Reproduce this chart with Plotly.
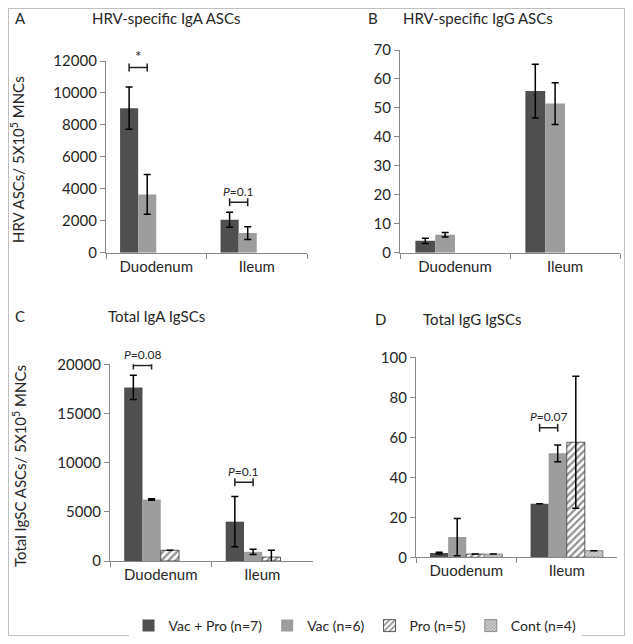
import plotly.graph_objects as go

# target picture size and page offset (browser body margin)
W, H = 633, 644
PAD = 8
FW, FH = W - 2 * PAD, H - 2 * PAD

categories = ["Duodenum", "Ileum"]
series_names = ["Vac + Pro (n=7)", "Vac (n=6)", "Pro (n=5)", "Cont (n=4)"]

# panel A - HRV-specific IgA ASCs
a_vacpro = [9050, 2060]
a_vacpro_err = [1330, 470]
a_vac = [3650, 1230]
a_vac_err = [1250, 400]

# panel B - HRV-specific IgG ASCs
b_vacpro = [4.1, 55.8]
b_vacpro_err = [0.9, 9.3]
b_vac = [6.2, 51.5]
b_vac_err = [0.8, 7.2]

# panel C - Total IgA IgSCs
c_vacpro = [17650, 4000]
c_vacpro_err = [1240, 2550]
c_vac = [6250, 930]
c_vac_err = [80, 260]
c_pro = [1090, 400]
c_pro_err = [0, 700]

# panel D - Total IgG IgSCs
d_vacpro = [2.1, 26.8]
d_vacpro_err = [0.4, float("nan")]
d_vac = [10.1, 52]
d_vac_err = [9.3, 4.2]
d_pro = [1.6, 57.5]
d_pro_err = [float("nan"), 33]
d_cont = [1.6, 3.3]
d_cont_err = [float("nan"), float("nan")]

# significance brackets
sig_panel = ["A", "A", "C", "C", "D"]
sig_cat = [0, 1, 0, 1, 1]
sig_y = [11600, 3155, 19890, 8010, 64.8]
sig_text = ["*", "<i>P</i>=0.1", "<i>P</i>=0.08", "<i>P</i>=0.1", "<i>P</i>=0.07"]

FONT = "Lato"
TXT = "#262626"
AXC = "#868686"

styles = [
    dict(color="#4f4f4f", line=dict(width=0)),
    dict(color="#9d9d9d", line=dict(width=0)),
    dict(color="white", line=dict(width=0.8, color="#333333"),
         pattern=dict(shape="/", fgcolor="#222222", bgcolor="white", size=5, solidity=0.45)),
    dict(color="#bdbdbd", line=dict(width=0.8, color="#777777"),
         pattern=dict(shape="x", fgcolor="#6f6f6f", bgcolor="#cfcfcf", size=3, solidity=0.45)),
]

BW = 0.18
offsets = [-0.36 + i * BW for i in range(4)]


def px_x(p):
    return (p - PAD) / FW


def px_y(p):
    return 1 - (p - PAD) / FH


panels = {
    "A": dict(ax="", x=(106, 307), y=(252.7, 61), rng=12000, dt=2000),
    "B": dict(ax="2", x=(400, 620), y=(252.7, 50), rng=70, dt=10),
    "C": dict(ax="3", x=(110, 313), y=(561, 364.3), rng=20000, dt=5000),
    "D": dict(ax="4", x=(416, 617), y=(557.3, 357.3), rng=100, dt=20),
}

panel_data = {
    "A": [(a_vacpro, a_vacpro_err), (a_vac, a_vac_err), None, None],
    "B": [(b_vacpro, b_vacpro_err), (b_vac, b_vac_err), None, None],
    "C": [(c_vacpro, c_vacpro_err), (c_vac, c_vac_err), (c_pro, c_pro_err), None],
    "D": [(d_vacpro, d_vacpro_err), (d_vac, d_vac_err), (d_pro, d_pro_err), (d_cont, d_cont_err)],
}

fig = go.Figure()
layout = {}

for key, p in panels.items():
    ax = p["ax"]
    for i, entry in enumerate(panel_data[key]):
        if entry is None:
            continue
        vals, errs = entry
        fig.add_trace(go.Bar(
            x=categories, y=vals, name=series_names[i],
            xaxis="x" + ax, yaxis="y" + ax,
            width=BW, offset=offsets[i],
            marker=styles[i],
            error_y=dict(type="data", array=errs, color="black", thickness=1.5, width=3.5),
            showlegend=(key == "D"),
            legendrank=i,
        ))
    layout["xaxis" + ax] = dict(
        domain=[px_x(p["x"][0]), px_x(p["x"][1])], anchor="y" + ax, automargin=False,
        type="category", range=[-0.5, 1.5], showline=True, linecolor=AXC, linewidth=1.3,
        ticks="outside", tickson="boundaries", ticklen=5, tickcolor=AXC,
        tickfont=dict(family=FONT, size=15, color=TXT), showgrid=False, zeroline=False,
    )
    layout["yaxis" + ax] = dict(
        domain=[px_y(p["y"][0]), px_y(p["y"][1])], anchor="x" + ax, automargin=False,
        range=[0, p["rng"]], dtick=p["dt"], tickformat="d", showline=True, linecolor=AXC, linewidth=1.3,
        ticks="outside", ticklen=5, tickcolor=AXC,
        tickfont=dict(family=FONT, size=15, color=TXT), showgrid=False, zeroline=False,
    )

shapes = []
annotations = []

# significance brackets
for pk, cat, yv, txt in zip(sig_panel, sig_cat, sig_y, sig_text):
    ax = panels[pk]["ax"]
    x0 = cat + offsets[0] + BW / 2
    x1 = cat + offsets[1] + BW / 2
    shapes.append(dict(type="line", xref="x" + ax, yref="y" + ax, x0=x0, x1=x1, y0=yv, y1=yv,
                       line=dict(color="#222222", width=1.5)))
    for xx in (x0, x1):
        shapes.append(dict(type="line", xref="x" + ax, yref="y" + ax, x0=xx, x1=xx,
                           ysizemode="pixel", yanchor=yv, y0=-4, y1=4,
                           line=dict(color="#222222", width=1.5)))
    annotations.append(dict(xref="x" + ax, yref="y" + ax, x=(x0 + x1) / 2, y=yv, yshift=11,
                            xanchor="center", yanchor="middle",
                            text=txt, showarrow=False,
                            font=dict(family=FONT, size=15 if txt == "*" else 12, color=TXT)))

# panel letters and titles
titles = [("A", 20, 18, 167, "HRV-specific IgA ASCs"),
          ("B", 373, 18, 478, "HRV-specific IgG ASCs"),
          ("C", 20, 316, 156, "Total IgA IgSCs"),
          ("D", 380, 319, 472, "Total IgG IgSCs")]
for letter, lx, ly, tx, ttl in titles:
    annotations.append(dict(xref="paper", yref="paper", x=px_x(lx), y=px_y(ly), text=letter,
                            xanchor="center", yanchor="middle",
                            showarrow=False, font=dict(family=FONT, size=15, color=TXT)))
    annotations.append(dict(xref="paper", yref="paper", x=px_x(tx), y=px_y(ly), text=ttl,
                            xanchor="center", yanchor="middle",
                            showarrow=False, font=dict(family=FONT, size=15, color=TXT)))

# y axis titles
annotations.append(dict(xref="paper", yref="paper", x=px_x(18), y=px_y(160), textangle=-90,
                        xanchor="center", yanchor="middle",
                        text="HRV ASCs/ 5X10<sup>5</sup> MNCs", showarrow=False,
                        font=dict(family=FONT, size=15, color=TXT)))
annotations.append(dict(xref="paper", yref="paper", x=px_x(20), y=px_y(466), textangle=-90,
                        xanchor="center", yanchor="middle",
                        text="Total IgSC ASCs/ 5X10<sup>5</sup> MNCs", showarrow=False,
                        font=dict(family=FONT, size=15, color=TXT)))

# outer frame
shapes.append(dict(type="rect", xref="paper", yref="paper", x0=0, x1=1, y0=0, y1=1,
                   line=dict(color="#bfbfbf", width=2)))

fig.update_layout(
    width=FW, height=FH,
    margin=dict(l=0, r=0, t=0, b=0, autoexpand=False),
    paper_bgcolor="white", plot_bgcolor="white",
    barmode="group",
    shapes=shapes, annotations=annotations,
    legend=dict(orientation="h", x=px_x(355), xanchor="center", y=px_y(626), yanchor="middle",
                font=dict(family=FONT, size=14, color=TXT), itemwidth=30, traceorder="normal"),
    **layout,
)

fig.write_html("out.html")
